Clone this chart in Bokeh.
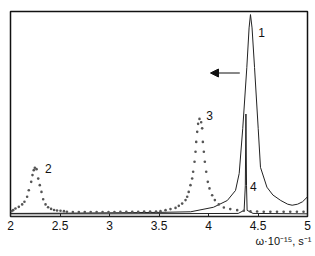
from bokeh.plotting import figure
from bokeh.models import Range1d, FixedTicker, Label, Arrow, NormalHead, Title
from bokeh.embed import file_html
from bokeh.resources import INLINE

# Curve 1 (solid)
w1 = [2.0, 2.5, 3.0, 3.5, 3.82, 4.05, 4.19, 4.273, 4.31, 4.346, 4.387, 4.41, 4.424,
      4.44, 4.465, 4.502, 4.525, 4.59, 4.65, 4.73, 4.8, 4.845, 4.9, 4.95, 5.0]
y1 = [1.5, 1.6, 1.8, 2.0, 2.3, 4.5, 7.8, 12.7, 21.0, 43.0, 72.7, 92.0, 98.5,
      92.0, 72.7, 43.0, 24.0, 14.3, 10.5, 7.8, 6.0, 5.5, 6.0, 7.2, 9.6]

# Curve 4 (solid, narrow)
w4 = [2.0, 3.0, 4.3, 4.36, 4.372, 4.378, 4.384, 4.39, 4.45, 5.0]
y4 = [1.3, 1.3, 1.5, 3.0, 15.0, 50.0, 15.0, 3.0, 1.5, 1.3]

# Curve 2 (dotted)
w2 = [2.01, 2.027, 2.05, 2.084, 2.118, 2.141, 2.168, 2.185, 2.209, 2.222, 2.235, 2.246,
      2.263, 2.28, 2.296, 2.313, 2.33, 2.354, 2.38, 2.41, 2.44, 2.47, 2.505, 2.54, 2.57,
      2.63, 2.69, 2.75, 2.81, 2.87, 2.93, 2.99, 3.05, 3.11, 3.17, 3.23, 3.29, 3.35, 3.41]
y2 = [2.6, 3.1, 3.9, 4.7, 5.9, 7.2, 9.6, 12.8, 16.9, 20.2, 22.6, 23.8,
      23.1, 18.5, 15.3, 12.0, 8.4, 5.9, 4.5, 3.7, 3.2, 2.9, 2.8, 2.6, 2.3,
      2.2, 2.2, 2.2, 2.2, 2.2, 2.2, 2.2, 2.2, 2.3, 2.3, 2.3, 2.3, 2.4, 2.4]

# Curve 3 (dotted)
w3 = [3.47, 3.515, 3.566, 3.616, 3.667, 3.70, 3.734, 3.768, 3.785, 3.80, 3.818, 3.835,
      3.845, 3.859, 3.869, 3.876, 3.886, 3.895, 3.909, 3.926, 3.936, 3.943, 3.953, 3.963,
      3.977, 3.993, 4.01, 4.037, 4.064, 4.104, 4.155, 4.22, 4.29, 4.357, 4.424, 4.491,
      4.558, 4.625, 4.692, 4.759, 4.826, 4.893, 4.96]
y3 = [2.4, 2.6, 3.1, 3.6, 4.2, 5.2, 6.3, 8.0, 9.6, 12.0, 15.3, 18.5,
      21.8, 26.7, 31.6, 36.4, 41.3, 45.2, 47.6, 46.0, 43.0, 36.4, 31.6, 26.7,
      21.8, 16.9, 13.7, 10.4, 8.0, 5.9, 4.4, 3.6, 3.1, 2.8, 2.5, 2.4,
      2.3, 2.3, 2.3, 2.3, 2.3, 2.3, 2.3]

ticks = [2, 2.5, 3, 3.5, 4, 4.5, 5]
tick_labels = ["2", "2.5", "3", "3.5", "4", "4.5", "5"]
axis_title = "ω·10⁻¹⁵, s⁻¹"

FONT = "Liberation Sans"
INK = "#222222"

p = figure(width=315, height=256, output_backend="svg", toolbar_location=None,
           x_range=Range1d(2, 5), y_range=Range1d(0, 100), y_axis_location=None,
           min_border_left=10, min_border_right=8, min_border_top=11, min_border_bottom=40)
p.xgrid.visible = False
p.ygrid.visible = False
p.outline_line_color = "#111111"
p.outline_line_width = 1.5
p.outline_line_alpha = 1.0
p.background_fill_color = "white"
p.border_fill_color = "white"

ax = p.xaxis[0]
ax.ticker = FixedTicker(ticks=ticks)
ax.major_label_overrides = {t: l for t, l in zip(ticks, tick_labels)}
ax.major_tick_in = 3
ax.major_tick_out = 0
ax.minor_tick_line_color = None
ax.axis_line_color = INK
ax.major_tick_line_color = INK
ax.major_label_text_font = FONT
ax.major_label_text_font_size = "12px"
ax.major_label_text_color = "#111111"
ax.major_label_standoff = 4

p.add_layout(Title(text=axis_title, align="right", text_font=FONT, text_font_size="11px",
                   text_font_style="normal", text_color="#111111", standoff=0, offset=-4),
             "below")

p.line(w1, y1, line_color=INK, line_width=1)
p.line(w4, y4, line_color=INK, line_width=1)
p.scatter(w2, y2, size=2.6, fill_color="#555555", line_color=None)
p.scatter(w3, y3, size=2.6, fill_color="#555555", line_color=None)

for txt, x, y in [("1", 4.535, 89.8), ("2", 2.381, 23.3), ("3", 4.01, 49.3), ("4", 4.452, 14.8)]:
    p.add_layout(Label(x=x, y=y, text=txt, text_font=FONT, text_font_size="12px",
                       text_align="center", text_baseline="middle", text_color="#111111"))

p.add_layout(Arrow(x_start=4.316, y_start=70.0, x_end=4.02, y_end=70.0,
                   line_color="#111111", line_width=1,
                   end=NormalHead(size=8, fill_color="#111111", line_color="#111111")))

open("out.html", "w").write(file_html(p, INLINE))
